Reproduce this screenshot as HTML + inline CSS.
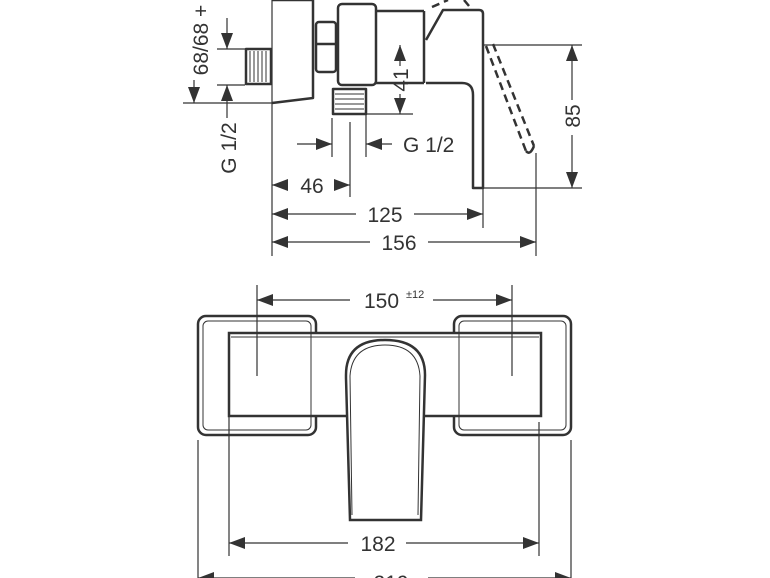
<!DOCTYPE html>
<html><head><style>
html,body{margin:0;padding:0;background:#fff;}
svg{display:block}
text{font-family:"Liberation Sans",sans-serif;fill:#333;}
</style></head><body>
<svg width="770" height="578" viewBox="0 0 770 578" xmlns="http://www.w3.org/2000/svg">
<defs>
<marker id="a" viewBox="0 0 16 12" refX="16" refY="6" markerWidth="16" markerHeight="12" markerUnits="userSpaceOnUse" orient="auto-start-reverse"><path d="M0,0 L16,6 L0,12 Z" fill="#333"/></marker>
</defs>
<g stroke="#333" fill="none">
<g stroke-width="1.2">
<line x1="272" y1="0" x2="272" y2="256"/>
<line x1="217" y1="49" x2="245" y2="49"/>
<line x1="217" y1="85" x2="245" y2="85"/>
<line x1="183" y1="103" x2="272" y2="103"/>
<line x1="366" y1="114" x2="413" y2="114"/>
<line x1="482" y1="45" x2="582" y2="45"/>
<line x1="483" y1="188" x2="582" y2="188"/>
<line x1="332" y1="118" x2="332" y2="157"/>
<line x1="366" y1="115" x2="366" y2="157"/>
<line x1="350" y1="122" x2="350" y2="197"/>
<line x1="483" y1="188" x2="483" y2="228"/>
<line x1="536" y1="153" x2="536" y2="256"/>
<line x1="227" y1="18" x2="227" y2="49" marker-end="url(#a)"/>
<line x1="227" y1="118" x2="227" y2="85" marker-end="url(#a)"/>
<line x1="194" y1="80" x2="194" y2="103" marker-end="url(#a)"/>
<line x1="400" y1="66" x2="400" y2="45" marker-end="url(#a)"/>
<line x1="400" y1="94" x2="400" y2="114" marker-end="url(#a)"/>
<line x1="572" y1="100" x2="572" y2="45" marker-end="url(#a)"/>
<line x1="572" y1="135" x2="572" y2="188" marker-end="url(#a)"/>
<line x1="297" y1="144" x2="332" y2="144" marker-end="url(#a)"/>
<line x1="392" y1="144" x2="366" y2="144" marker-end="url(#a)"/>
<line x1="288" y1="185" x2="272" y2="185" marker-end="url(#a)"/>
<line x1="334" y1="185" x2="350" y2="185" marker-end="url(#a)"/>
<line x1="356" y1="214" x2="272" y2="214" marker-end="url(#a)"/>
<line x1="414" y1="214" x2="483" y2="214" marker-end="url(#a)"/>
<line x1="370" y1="242" x2="272" y2="242" marker-end="url(#a)"/>
<line x1="428" y1="242" x2="536" y2="242" marker-end="url(#a)"/>
<line x1="229" y1="416" x2="229" y2="556"/>
<line x1="539" y1="422" x2="539" y2="556"/>
<line x1="198" y1="440" x2="198" y2="578"/>
<line x1="571" y1="440" x2="571" y2="578"/>
<line x1="350" y1="300" x2="257" y2="300" marker-end="url(#a)"/>
<line x1="433" y1="300" x2="512" y2="300" marker-end="url(#a)"/>
<line x1="348" y1="543" x2="229" y2="543" marker-end="url(#a)"/>
<line x1="406" y1="543" x2="539" y2="543" marker-end="url(#a)"/>
<line x1="355" y1="578" x2="198" y2="578" marker-end="url(#a)"/>
<line x1="428" y1="578" x2="571" y2="578" marker-end="url(#a)"/>
</g>
<g stroke-width="2.5" stroke-linejoin="round">
<path d="M272,0 L313,0 L313,98 L272,103"/>
<rect x="246" y="49" width="25" height="35"/>
<g stroke-width="1"><line x1="250" y1="51" x2="250" y2="82"/><line x1="254" y1="51" x2="254" y2="82"/><line x1="258" y1="51" x2="258" y2="82"/><line x1="262" y1="51" x2="262" y2="82"/><line x1="266" y1="51" x2="266" y2="82"/></g>
<rect x="316" y="22" width="20" height="50" rx="3"/>
<line x1="316" y1="44" x2="336" y2="44"/>
<rect x="338" y="4" width="38" height="81" rx="4"/>
<rect x="333" y="89" width="33" height="25"/>
<g stroke-width="1"><line x1="335" y1="94" x2="364" y2="94"/><line x1="335" y1="99" x2="364" y2="99"/><line x1="335" y1="104" x2="364" y2="104"/><line x1="335" y1="109" x2="364" y2="109"/></g>
<path d="M376,11 L424,11 M376,83 L424,83"/>
<path d="M424,11 L424,83"/>
<path d="M426,83 L462,83 Q473,83 473,95 L473,188 L483,188 L483,14 Q483,10 479,10 L443,10 L426,40"/>
</g>
<g stroke-width="2.5" stroke-dasharray="8,5">
<path d="M486,46 L526,151"/>
<path d="M493,44 L534,146"/>
<path d="M432,7 L448,0"/>
<path d="M464,0 L469,6"/>
</g>
<path d="M526,151 Q530,156 534,146" stroke-width="2.5"/>
<g stroke-width="2.5">
<rect x="198" y="316" width="118" height="119" rx="8"/>
<rect x="454" y="316" width="117" height="119" rx="8"/>
<rect x="229" y="333" width="312" height="83" fill="#fff"/>
<line x1="231" y1="337" x2="539" y2="337" stroke-width="1"/>
<path d="M350,520 L346,378 L346,375 Q346,340 385,340 Q425,340 425,375 L421,520 Z" fill="#fff"/>
</g>
<g stroke-width="1">
<rect x="203" y="321" width="108" height="109" rx="5"/>
<rect x="459" y="321" width="107" height="109" rx="5"/>
<path d="M352,515 L350,376 Q352,345 385,345 Q418,345 420,376 L418,515"/>
</g>
<g stroke-width="1.2">
<line x1="257" y1="285" x2="257" y2="376"/>
<line x1="512" y1="285" x2="512" y2="376"/>
</g>
</g>
<g font-size="21">
<text x="312" y="193" text-anchor="middle">46</text>
<text x="385" y="222" text-anchor="middle">125</text>
<text x="399" y="250" text-anchor="middle">156</text>
<text x="403" y="152">G 1/2</text>
<text transform="translate(408,80) rotate(-90)" text-anchor="middle">41</text>
<text transform="translate(580,116) rotate(-90)" text-anchor="middle">85</text>
<text transform="translate(236,148) rotate(-90)" text-anchor="middle">G 1/2</text>
<text transform="translate(208,40) rotate(-90)" text-anchor="middle">68/68 +</text>
<text x="364" y="308">150</text>
<text x="406" y="298" font-size="11">±12</text>
<text x="378" y="551" text-anchor="middle">182</text>
<text x="391" y="590" text-anchor="middle">219</text>
</g>
</svg>
</body></html>
